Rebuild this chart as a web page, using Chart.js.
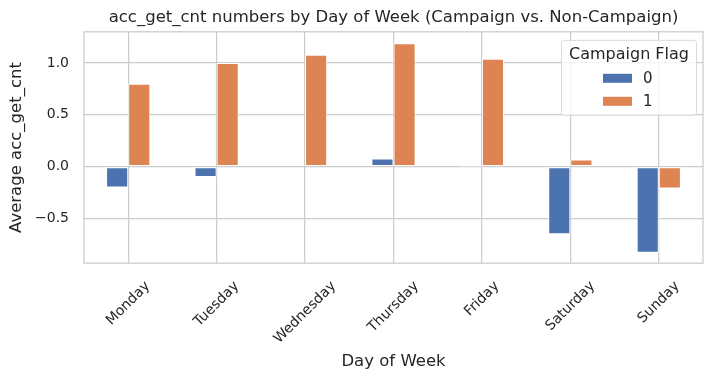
<!DOCTYPE html>
<html><head><meta charset="utf-8">
<script src="https://cdn.jsdelivr.net/npm/chart.js@4/dist/chart.umd.min.js"></script>
<style>html,body{margin:0;padding:0;background:#fff;}canvas{display:block;}</style>
</head><body>
<canvas id="c" width="713" height="383"></canvas>
<script>
const categories = ['Monday','Tuesday','Wednesday','Thursday','Friday','Saturday','Sunday'];
const seriesLabels = ['0','1'];
const flag0 = [-0.20, -0.10, 0.01, 0.08, 0.003, -0.65, -0.83];
const flag1 = [0.80, 1.00, 1.08, 1.19, 1.04, 0.07, -0.21];
const yTicks = [-0.5, 0.0, 0.5, 1.0];

const FONT = "'DejaVu Sans', sans-serif";
const TXT = '#262626';
const GRID = '#cccccc';
const TICK_SIZE = 14;

const frame = {
  id:'frame',
  beforeDatasetsDraw(chart){
    const a = chart.chartArea, ctx = chart.ctx;
    ctx.save(); ctx.strokeStyle = GRID; ctx.lineWidth = 1.25;
    ctx.strokeRect(a.left, a.top, a.right-a.left, a.bottom-a.top);
    ctx.restore();
  }
};
// x tick labels rotated 45°, bounding box centred under each tick
const xLabels = {
  id:'xLabels',
  afterDraw(chart){
    const ctx = chart.ctx, a = chart.chartArea, sx = chart.scales.x;
    ctx.save();
    ctx.font = TICK_SIZE + 'px ' + FONT; ctx.fillStyle = TXT;
    ctx.textAlign = 'center'; ctx.textBaseline = 'middle';
    const h = TICK_SIZE * 1.15, c = Math.SQRT1_2;
    chart.data.labels.forEach((lab, i) => {
      const w = ctx.measureText(lab).width;
      const H = (w + h) * c;
      const x = sx.getPixelForValue(i), y = a.bottom + 15 + H/2;
      ctx.save(); ctx.translate(x, y); ctx.rotate(-Math.PI/4);
      ctx.fillText(lab, 0, 0); ctx.restore();
    });
    ctx.restore();
  }
};
const legendBox = {
  id:'legendBox',
  afterDraw(chart){
    const ctx = chart.ctx, a = chart.chartArea;
    const w = 135, h = 75, x = a.right - 142, y = a.top + 8;
    ctx.save();
    ctx.fillStyle = 'rgba(255,255,255,0.8)';
    ctx.strokeStyle = '#d9d9d9'; ctx.lineWidth = 1;
    ctx.beginPath(); ctx.roundRect(x+0.5, y+0.5, w, h, 3); ctx.fill(); ctx.stroke();
    ctx.fillStyle = TXT; ctx.font = '16px ' + FONT; ctx.textAlign = 'center'; ctx.textBaseline = 'middle';
    ctx.fillText('Campaign Flag', x + w/2 + 0.5, y + 15);
    chart.data.datasets.forEach((ds, i) => {
      const yy = y + 38 + i*23;
      ctx.fillStyle = ds.backgroundColor;
      ctx.fillRect(x + 42, yy - 4, 29, 9);
      ctx.fillStyle = TXT; ctx.font = '15px ' + FONT; ctx.textAlign = 'left';
      ctx.fillText(ds.label, x + 82, yy + 1);
    });
    ctx.restore();
  }
};

new Chart(document.getElementById('c'), {
  type:'bar',
  data:{
    labels: categories,
    datasets:[
      {label: seriesLabels[0], data: flag0, backgroundColor:'#4c72b0', borderColor:'#ffffff', borderWidth:1, borderSkipped:false},
      {label: seriesLabels[1], data: flag1, backgroundColor:'#dd8452', borderColor:'#ffffff', borderWidth:1, borderSkipped:false}
    ]
  },
  options:{
    responsive:false, animation:false,
    layout:{padding:{left:0, right:10, top:0, bottom:0}},
    datasets:{bar:{categoryPercentage:0.5, barPercentage:1.0}},
    plugins:{
      legend:{display:false}, tooltip:{enabled:false},
      title:{display:true, fullSize:false, text:'acc_get_cnt numbers by Day of Week (Campaign vs. Non-Campaign)', color:TXT, font:{family:FONT, size:16.5, weight:'normal'}, padding:{top:8, bottom:4}}
    },
    scales:{
      x:{
        grid:{color:GRID, lineWidth:1.25, offset:false, drawTicks:false},
        border:{display:false},
        ticks:{display:false},
        title:{display:true, text:'Day of Week', color:TXT, font:{family:FONT, size:16.5}, padding:{top:89, bottom:11}}
      },
      y:{
        min:-0.93, max:1.30,
        afterBuildTicks(s){ s.ticks = yTicks.map(v=>({value:v})); },
        afterFit(s){ s.width = 84; },
        grid:{color:GRID, lineWidth:1.25, drawTicks:false},
        border:{display:false},
        ticks:{color:TXT, font:{family:FONT, size:TICK_SIZE}, padding:15, callback:v=>v.toFixed(1).replace('-','\u2212')},
        title:{display:true, text:'Average acc_get_cnt', color:TXT, font:{family:FONT, size:16.5}, padding:{top:7, bottom:8}}
      }
    }
  },
  plugins:[frame, xLabels, legendBox]
});
</script>
</body></html>
